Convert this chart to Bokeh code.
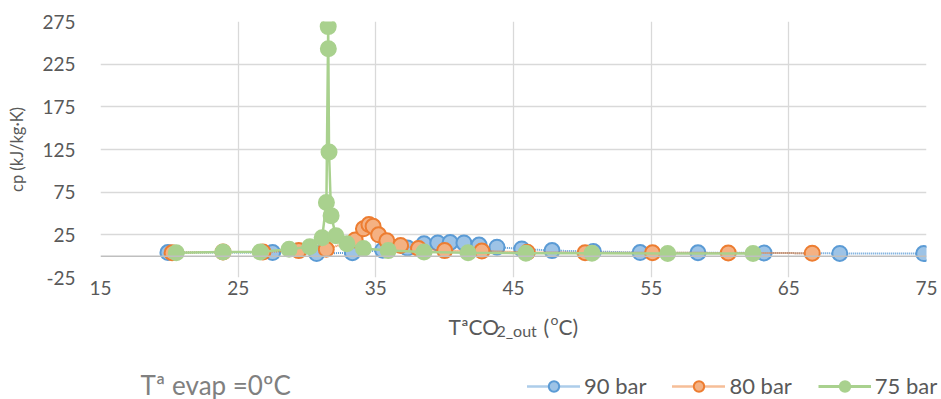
from math import pi
from bokeh.plotting import figure
from bokeh.layouts import column
from bokeh.models import (Range1d, FixedTicker, Span, Label, Legend, LegendItem,
                          ColumnDataSource)
from bokeh.embed import file_html
from bokeh.resources import INLINE

# ---- data ----
x90 = [19.9, 27.5, 30.7, 33.3, 35.5, 37.3, 38.5, 39.5, 40.4, 41.4, 42.5, 43.8,
       45.6, 47.8, 50.8, 54.2, 58.4, 63.2, 68.7, 74.8]
cp90 = [4.2, 4.2, 3.0, 4.0, 7.0, 9.5, 14.5, 15.5, 16.0, 15.5, 13.0, 10.5,
        8.5, 6.5, 5.5, 4.2, 4.0, 3.8, 3.2, 3.0]

x80 = [20.2, 23.9, 26.8, 29.4, 31.4, 33.5, 34.1, 34.5, 34.8, 35.2, 35.8, 36.8,
       38.1, 40.0, 42.7, 46.0, 50.2, 55.1, 60.6, 66.7]
cp80 = [4.0, 5.0, 5.0, 6.5, 8.0, 19.0, 32.0, 37.0, 35.0, 25.0, 18.0, 12.5,
        9.0, 6.5, 6.0, 4.5, 4.0, 4.0, 3.8, 3.5]

x75 = [20.5, 23.9, 26.6, 28.7, 30.2, 31.1, 31.41, 31.54, 31.55, 31.60, 31.75,
       32.1, 32.9, 34.1, 35.9, 38.5, 41.7, 45.9, 50.7, 56.2, 62.4]
cp75 = [4.0, 5.0, 5.0, 8.0, 11.0, 21.5, 63.0, 269.0, 243.0, 122.0, 47.5,
        24.0, 14.5, 9.0, 6.5, 5.0, 4.0, 3.5, 3.5, 3.2, 3.0]

series_names = ["90 bar", "80 bar", "75 bar"]
x_ticks = [15, 25, 35, 45, 55, 65, 75]
y_ticks = [-25, 25, 75, 125, 175, 225, 275]

FONT = "Lato"
TXT = "#595959"
MAIN_H = 305
FOOT_H = 399 - MAIN_H

p = figure(width=941, height=MAIN_H, output_backend="svg", toolbar_location=None,
           x_range=Range1d(15, 75), y_range=Range1d(-25, 275),
           min_border_left=100, min_border_right=15, min_border_top=21,
           min_border_bottom=MAIN_H - 277)
p.outline_line_color = None
p.background_fill_color = "white"
p.border_fill_color = "white"

for ax in (p.xaxis[0], p.yaxis[0]):
    ax.axis_line_color = None
    ax.major_tick_line_color = None
    ax.minor_tick_line_color = None
    ax.major_label_text_font = FONT
    ax.major_label_text_font_size = "19px"
    ax.major_label_text_color = TXT
    ax.major_tick_out = 0
    ax.major_tick_in = 0

p.xaxis[0].ticker = FixedTicker(ticks=x_ticks)
p.yaxis[0].ticker = FixedTicker(ticks=y_ticks)
p.yaxis[0].major_label_overrides = {-25: "-25"}
p.xaxis[0].major_label_standoff = 3
p.yaxis[0].major_label_standoff = 25

p.yaxis[0].axis_label = "cp (kJ/kg·K)"
p.yaxis[0].axis_label_text_font = FONT
p.yaxis[0].axis_label_text_font_size = "16.5px"
p.yaxis[0].axis_label_text_font_style = "normal"
p.yaxis[0].axis_label_text_color = TXT
p.yaxis[0].axis_label_standoff = 12

p.xgrid[0].ticker = FixedTicker(ticks=x_ticks)
p.ygrid[0].ticker = FixedTicker(ticks=y_ticks)
for g in (p.xgrid[0], p.ygrid[0]):
    g.grid_line_color = "#D9D9D9"
    g.grid_line_width = 1.3

p.add_layout(Span(location=0, dimension="width", line_color="#BFBFBF", line_width=1.5))

# ---- series ----
styles = [
    dict(x=x90, y=cp90, lc="#5B9BD5", dash="1 1", lw=2.0, fill="#9DC3E6", oc="#5B9BD5"),
    dict(x=x80, y=cp80, lc="#ED7D31", dash="1 1", lw=2.0, fill="#F4B183", oc="#ED7D31"),
    dict(x=x75, y=cp75, lc="#A9D18E", dash="solid", lw=2.5, fill="#A9D18E", oc="#A9D18E"),
]
for s in styles:
    src = ColumnDataSource(dict(x=s["x"], y=s["y"]))
    p.line("x", "y", source=src, line_color=s["lc"], line_width=s["lw"],
           line_dash=s["dash"])
    p.scatter("x", "y", source=src, size=15, fill_color=s["fill"],
              line_color=s["oc"], line_width=2)

# ---- footer: axis title, note and legend ----
f = figure(width=941, height=FOOT_H, output_backend="svg", toolbar_location=None,
           x_range=Range1d(0, 941), y_range=Range1d(0, FOOT_H),
           min_border_left=0, min_border_right=0, min_border_top=0,
           min_border_bottom=0, frame_align=False)
f.axis.visible = False
f.grid.visible = False
f.outline_line_color = None
f.background_fill_color = "white"
f.border_fill_color = "white"

def fy(py):
    return 399 - py

xt = [("TªCO", 448, 326, "21px"), ("2_out", 496, 330, "16px"), ("(", 543, 326, "21px"),
      ("o", 550, 319, "14px"), ("C)", 558, 326, "21px")]
for t, xp, yp, fs in xt:
    f.add_layout(Label(x=xp, y=fy(yp), text=t, text_align="left",
                       text_baseline="alphabetic", text_font=FONT,
                       text_font_size=fs, text_color=TXT))

f.add_layout(Label(x=140, y=fy(384), text="Tª evap =0ºC", text_align="left",
                   text_baseline="middle", text_font=FONT, text_font_size="26px",
                   text_color="#808080"))

items = []
for name, s in zip(series_names, styles):
    dummy = ColumnDataSource(dict(x=[-1e6, -1e6 + 1], y=[-1e6, -1e6]))
    lr = f.line("x", "y", source=dummy, line_color=s["lc"], line_width=s["lw"] + 0.5,
                line_dash=s["dash"])
    sr = f.scatter("x", "y", source=dummy, size=16, fill_color=s["fill"],
                   line_color=s["oc"], line_width=2)
    items.append(LegendItem(label=name, renderers=[lr, sr]))

legend = Legend(items=items, orientation="horizontal", location=(527, 0),
                glyph_width=53, glyph_height=26, label_height=26, label_standoff=4,
                spacing=26, padding=0, margin=0, border_line_color=None,
                background_fill_alpha=0, label_text_font=FONT,
                label_text_font_size="22px", label_text_color=TXT,
                label_text_baseline="middle")
f.add_layout(legend)

layout = column(p, f, spacing=0)
open("out.html", "w").write(file_html(layout, INLINE))
